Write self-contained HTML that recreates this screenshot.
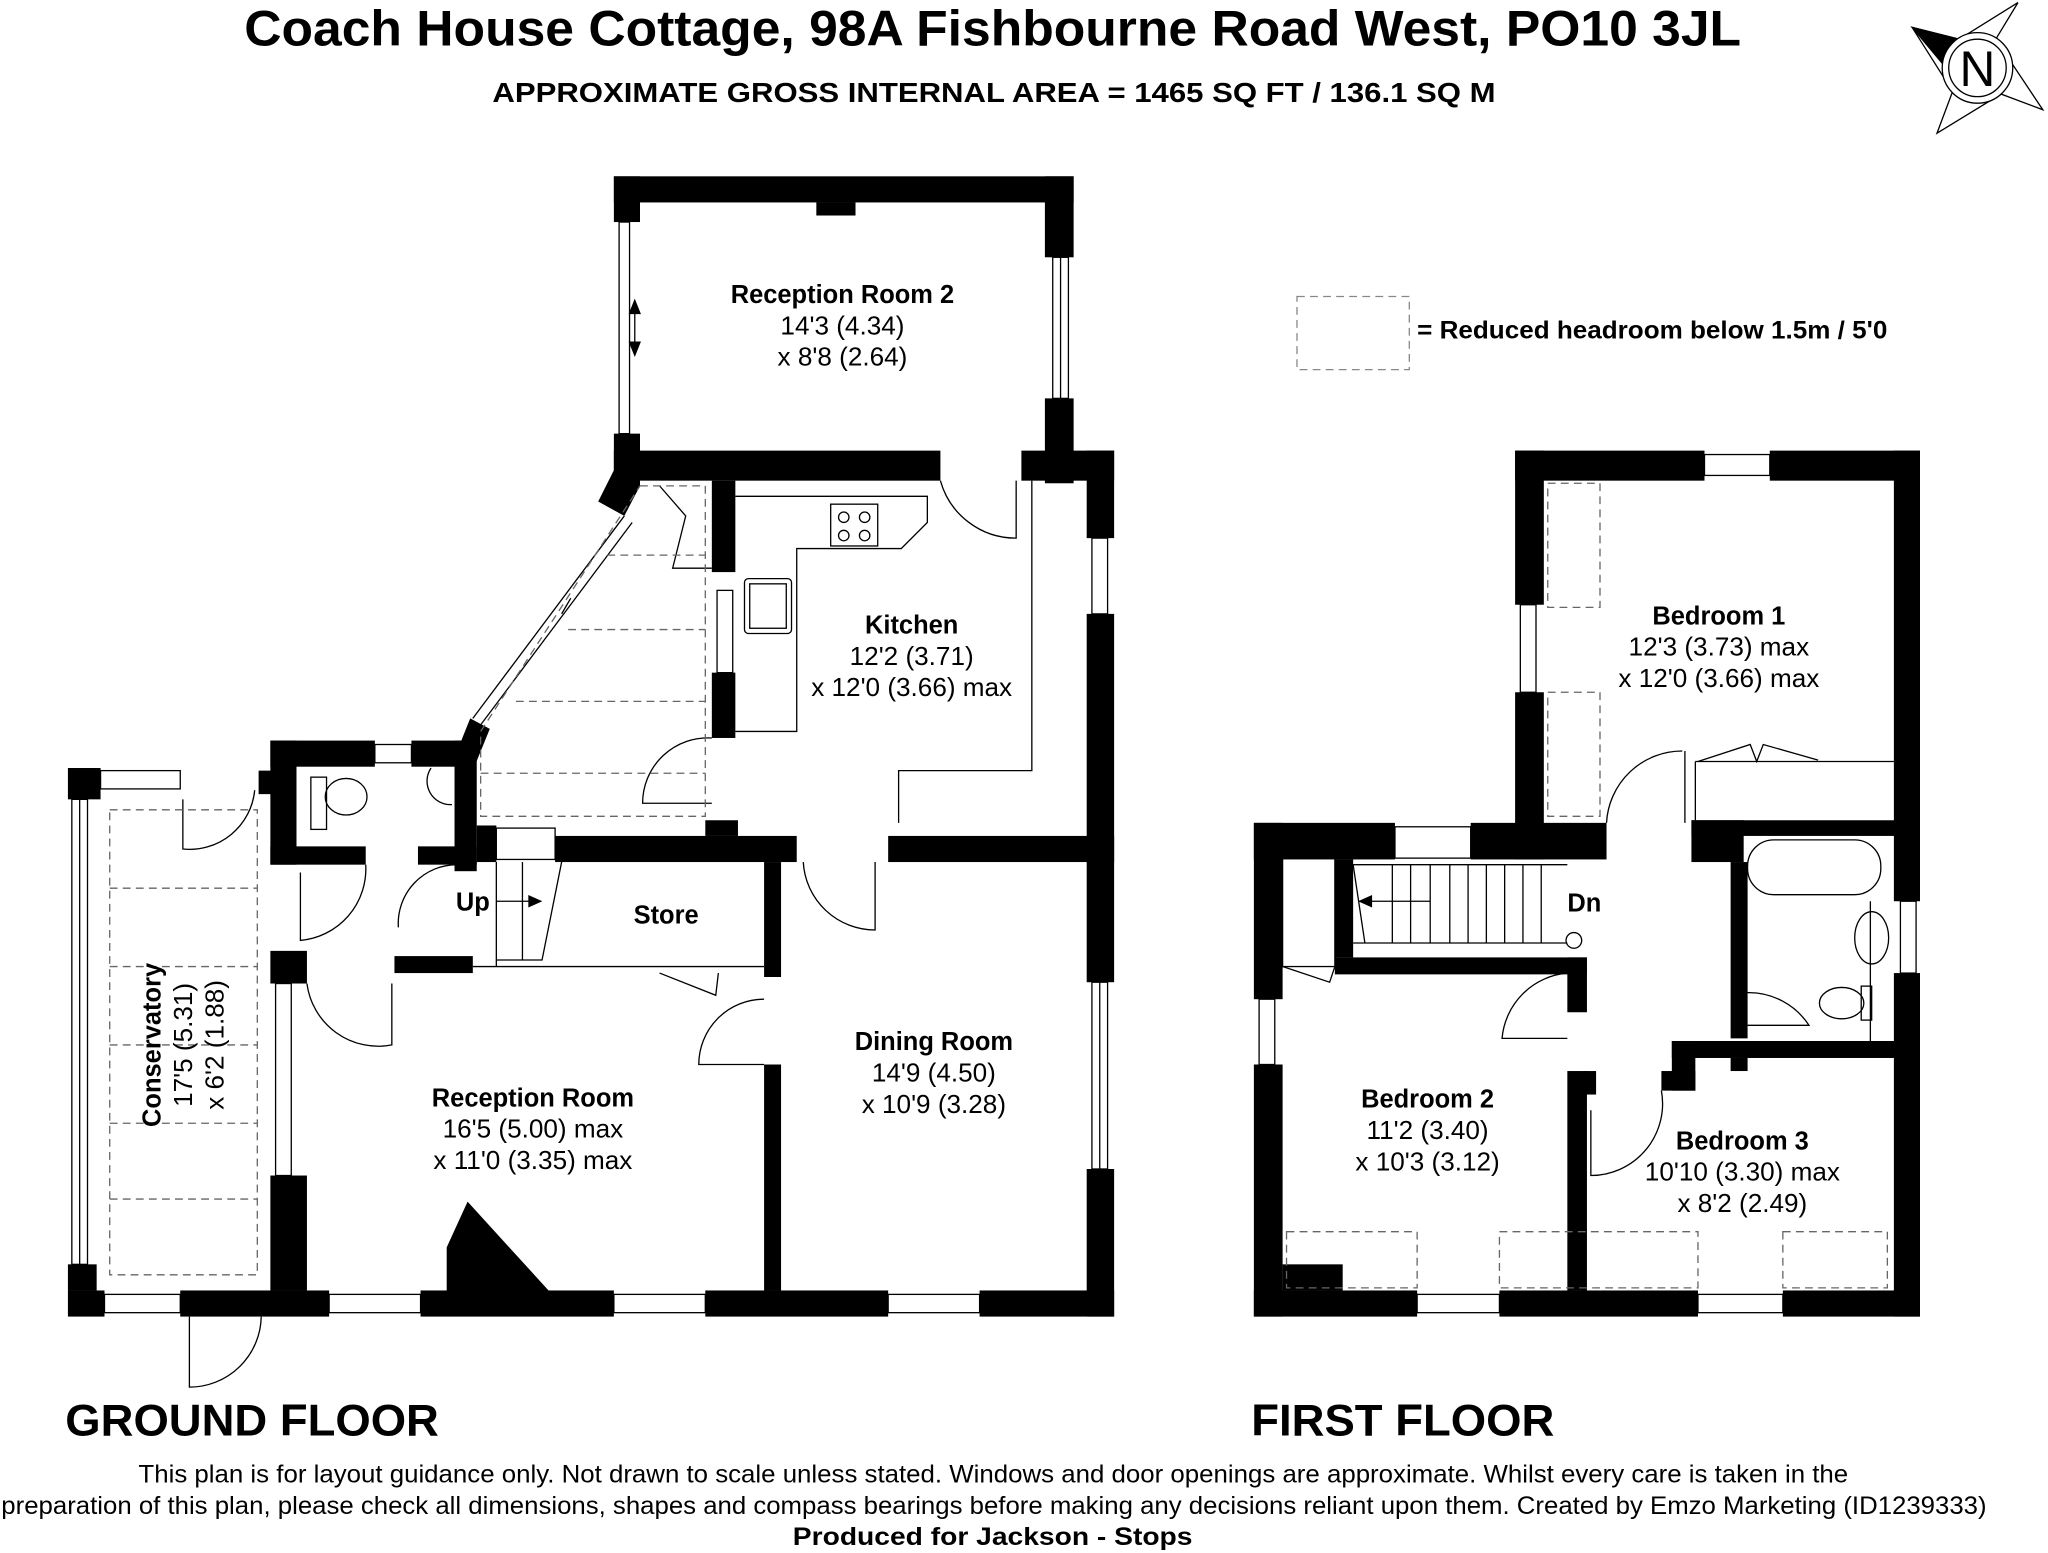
<!DOCTYPE html>
<html><head><meta charset="utf-8"><style>
html,body{margin:0;padding:0;background:#fff;}
svg{display:block;}
text{font-family:"Liberation Sans",Arial,sans-serif;fill:#000;}
.b{font-weight:bold;}
</style></head><body>
<svg width="2048" height="1553" viewBox="0 0 1568 1189" preserveAspectRatio="none" xmlns="http://www.w3.org/2000/svg">
<rect width="1568" height="1189" fill="#fff"/>
<!-- titles -->
<text x="187" y="35" class="b" font-size="38" textLength="1146" lengthAdjust="spacingAndGlyphs">Coach House Cottage, 98A Fishbourne Road West, PO10 3JL</text>
<text x="377" y="78" class="b" font-size="21" textLength="768" lengthAdjust="spacingAndGlyphs">APPROXIMATE GROSS INTERNAL AREA = 1465 SQ FT / 136.1 SQ M</text>
<!-- compass -->
<g stroke="#000" stroke-width="1" fill="#fff">
<polygon points="1545,2 1528,30 1514,52 1500,30"/>
<polygon points="1564,84 1532,72 1514,52 1528,30"/>
<polygon points="1483,102 1495,70 1514,52 1532,72"/>
<polygon points="1464,21 1500,30 1514,52 1495,70"/>
<polygon points="1464,21 1500,30 1490,52" fill="#000"/>
<circle cx="1514" cy="52" r="27"/>
<circle cx="1514" cy="52" r="22"/>
</g>
<text x="1514" y="66" text-anchor="middle" font-size="38">N</text>
<!-- legend -->
<rect x="993" y="227" width="86" height="56" fill="none" stroke="#888" stroke-dasharray="6,4"/>
<text x="1085" y="259" class="b" font-size="19" textLength="360" lengthAdjust="spacingAndGlyphs">= Reduced headroom below 1.5m / 5'0</text>

<g fill="#000">
<rect x="470" y="135" width="352" height="20"/>
<rect x="470" y="135" width="20" height="35"/>
<rect x="625" y="155" width="30" height="10"/>
<rect x="800" y="135" width="22" height="62"/>
<rect x="800" y="305" width="22" height="65"/>
<rect x="470" y="332" width="20" height="40"/>
<rect x="470" y="345" width="250" height="23"/>
<rect x="782" y="345" width="71" height="23"/>
<rect x="832" y="345" width="21" height="67"/>
<rect x="832" y="470" width="21" height="282"/>
<rect x="832" y="895" width="21" height="113"/>
<rect x="545" y="368" width="18" height="70"/>
<rect x="545" y="515" width="18" height="50"/>
<polygon points="470,360 490,372 478,395 458,384"/>
<polygon points="360,550 375,558 362,590 348,580"/>
<rect x="207" y="567" width="80" height="20"/>
<rect x="315" y="567" width="45" height="20"/>
<rect x="207" y="567" width="20" height="95"/>
<rect x="207" y="648" width="73" height="14"/>
<rect x="320" y="648" width="45" height="14"/>
<rect x="348" y="567" width="17" height="100"/>
<rect x="365" y="632" width="15" height="28"/>
<rect x="425" y="640" width="185" height="20"/>
<rect x="540" y="628" width="25" height="12"/>
<rect x="680" y="640" width="173" height="20"/>
<rect x="585" y="660" width="13" height="88"/>
<rect x="585" y="815" width="13" height="173"/>
<rect x="302" y="732" width="60" height="13"/>
<rect x="207" y="728" width="28" height="25"/>
<rect x="207" y="900" width="28" height="88"/>
<polygon points="342,988 342,955 358,920 420,988"/>
<rect x="52" y="988" width="28" height="20"/>
<rect x="138" y="988" width="114" height="20"/>
<rect x="322" y="988" width="148" height="20"/>
<rect x="540" y="988" width="140" height="20"/>
<rect x="750" y="988" width="103" height="20"/>
<rect x="52" y="588" width="25" height="24"/>
<rect x="52" y="968" width="22" height="20"/>
<rect x="198" y="590" width="10" height="18"/>

<rect x="1160" y="345" width="145" height="23"/>
<rect x="1355" y="345" width="115" height="23"/>
<rect x="1160" y="345" width="22" height="118"/>
<rect x="1160" y="530" width="22" height="128"/>
<rect x="1450" y="345" width="20" height="345"/>
<rect x="1450" y="745" width="20" height="263"/>
<rect x="960" y="630" width="108" height="28"/>
<rect x="1126" y="630" width="104" height="28"/>
<rect x="960" y="630" width="22" height="135"/>
<rect x="960" y="815" width="22" height="193"/>
<rect x="960" y="988" width="125" height="20"/>
<rect x="1148" y="988" width="152" height="20"/>
<rect x="1365" y="988" width="105" height="20"/>
<rect x="982" y="968" width="46" height="20"/>
<rect x="1022" y="658" width="14" height="75"/>
<rect x="1022" y="733" width="193" height="13"/>
<rect x="1200" y="733" width="15" height="42"/>
<rect x="1200" y="820" width="15" height="168"/>
<rect x="1212" y="820" width="10" height="18"/>
<rect x="1295" y="628" width="175" height="12"/>
<rect x="1295" y="628" width="40" height="32"/>
<rect x="1325" y="660" width="13" height="135"/>
<rect x="1280" y="797" width="190" height="13"/>
<rect x="1280" y="797" width="18" height="38"/>
<rect x="1272" y="820" width="26" height="15"/>
<rect x="1325" y="810" width="13" height="10"/>
</g>

<g fill="none" stroke="#000" stroke-width="1">
<rect x="474" y="170" width="8" height="162"/>
<rect x="806" y="197" width="12" height="108"/><line x1="812" y1="197" x2="812" y2="305"/>
<rect x="836" y="412" width="12" height="58"/>
<rect x="836" y="752" width="12" height="143"/><line x1="842" y1="752" x2="842" y2="895"/>
<rect x="549" y="452" width="12" height="63"/>
<rect x="287" y="570" width="28" height="14"/>
<rect x="380" y="634" width="45" height="24"/>
<rect x="80" y="991" width="58" height="14"/><rect x="252" y="991" width="70" height="14"/>
<rect x="470" y="991" width="70" height="14"/><rect x="680" y="991" width="70" height="14"/>
<rect x="77" y="590" width="61" height="14"/>
<rect x="55" y="612" width="12" height="356"/><line x1="61" y1="612" x2="61" y2="968"/>
<rect x="211" y="753" width="12" height="147"/>
<line x1="478" y1="395" x2="362" y2="550"/><line x1="484" y1="400" x2="368" y2="555"/>
<path d="M720,368 A60,60 0 0 0 778,412 L778,368"/>
<path d="M545,565 A50,50 0 0 0 492,615 L545,615"/>
<path d="M615,660 A55,55 0 0 0 670,712 L670,660"/>
<path d="M585,765 A50,50 0 0 0 535,815 L585,815"/>
<path d="M235,753 A55,55 0 0 0 300,800 L300,753"/>
<path d="M280,662 A55,55 0 0 1 230,720 L230,668"/>
<path d="M350,662 A45,45 0 0 0 305,710"/>
<path d="M140,612 L140,650 A50,50 0 0 0 195,605"/>
<path d="M145,1008 L145,1062 A55,55 0 0 0 200,1008"/>
<path d="M505,745 L548,762 L550,745"/>
<path d="M563,380 L710,380 L710,400 L690,420 L610,420 L610,560 L563,560"/>
<path d="M790,368 L790,590 L688,590 L688,630"/>
<rect x="636" y="386" width="36" height="32"/>
<circle cx="646" cy="396" r="4"/><circle cx="662" cy="396" r="4"/><circle cx="646" cy="410" r="4"/><circle cx="662" cy="410" r="4"/>
<rect x="570" y="443" width="36" height="42" rx="3"/><rect x="574" y="447" width="28" height="34"/>
<path d="M380,660 L380,740 M400,660 L400,735 M380,735 L415,735 L430,660"/>
<line x1="362" y1="740" x2="585" y2="740"/>
<ellipse cx="265" cy="610" rx="16" ry="14"/><rect x="238" y="595" width="12" height="40"/>
<path d="M330,588 a18,18 0 0 0 16,28"/>
<path d="M505,372 L525,395 L515,435 L545,435"/>
</g>
<g fill="none" stroke="#666" stroke-dasharray="6,4" stroke-width="1">
<path d="M490,372 L540,372 L540,625 L368,625 L368,560 Z"/>
<line x1="465" y1="425" x2="540" y2="425"/><line x1="435" y1="482" x2="540" y2="482"/>
<line x1="395" y1="537" x2="540" y2="537"/><line x1="368" y1="592" x2="540" y2="592"/>
<rect x="84" y="620" width="113" height="356"/>
<line x1="84" y1="680" x2="197" y2="680"/><line x1="84" y1="740" x2="197" y2="740"/>
<line x1="84" y1="800" x2="197" y2="800"/><line x1="84" y1="860" x2="197" y2="860"/><line x1="84" y1="918" x2="197" y2="918"/>
</g>
<g stroke="#000" fill="#000">
<line x1="486" y1="238" x2="486" y2="265"/><polygon points="482,240 490,240 486,230"/><polygon points="482,262 490,262 486,272"/>
<line x1="430" y1="470" x2="437" y2="458"/><line x1="380" y1="690" x2="405" y2="690"/><polygon points="405,686 405,694 414,690"/>
<line x1="1050" y1="690" x2="1095" y2="690"/><polygon points="1050,686 1050,694 1041,690"/>
</g>

<g fill="none" stroke="#000" stroke-width="1">
<rect x="1305" y="348" width="50" height="16"/>
<rect x="1164" y="463" width="12" height="67"/>
<rect x="1455" y="690" width="12" height="55"/>
<rect x="964" y="765" width="12" height="50"/>
<rect x="1068" y="633" width="58" height="24"/>
<rect x="1085" y="991" width="63" height="14"/><rect x="1300" y="991" width="65" height="14"/>
<path d="M1298,583 L1450,583 M1298,583 L1298,628"/>
<path d="M1300,583 L1340,570 L1345,583 L1350,570 L1392,582"/>
<path d="M1290,575 L1290,630 M1230,630 A58,58 0 0 1 1288,575"/>
<path d="M1338,760 A55,55 0 0 1 1385,785 L1338,785"/>
<path d="M1200,745 A55,55 0 0 0 1150,795 L1200,795"/>
<path d="M1218,850 L1218,900 A55,55 0 0 0 1272,835"/>
<path d="M982,740 L1018,752 L1022,740"/>
<rect x="1338" y="643" width="102" height="42" rx="20"/>
<ellipse cx="1433" cy="718" rx="13" ry="20"/>
<ellipse cx="1410" cy="768" rx="17" ry="12"/><rect x="1425" y="755" width="8" height="26"/>
<line x1="1432" y1="690" x2="1432" y2="797"/>
<path d="M1036,662 L1200,662 M1036,722 L1200,722"/>
<line x1="1036" y1="662" x2="1045" y2="722"/>
<line x1="1066" y1="662" x2="1066" y2="722"/><line x1="1080" y1="662" x2="1080" y2="722"/><line x1="1095" y1="662" x2="1095" y2="722"/>
<line x1="1110" y1="662" x2="1110" y2="722"/><line x1="1124" y1="662" x2="1124" y2="722"/><line x1="1138" y1="662" x2="1138" y2="722"/>
<line x1="1152" y1="662" x2="1152" y2="722"/><line x1="1166" y1="662" x2="1166" y2="722"/><line x1="1180" y1="662" x2="1180" y2="722"/>
<circle cx="1205" cy="720" r="6"/>
<rect x="982" y="650" width="40" height="90"/>
</g>
<g fill="none" stroke="#666" stroke-dasharray="6,4" stroke-width="1">
<rect x="1185" y="370" width="40" height="95"/>
<rect x="1185" y="530" width="40" height="95"/>
<rect x="985" y="943" width="100" height="43"/>
<rect x="1148" y="943" width="152" height="43"/>
<rect x="1365" y="943" width="80" height="43"/>
</g>

<g font-size="20" text-anchor="middle">
<text x="645" y="232" class="b" font-size="19.5">Reception Room 2</text><text x="645" y="256">14'3 (4.34)</text><text x="645" y="280">x 8'8 (2.64)</text>
<text x="698" y="485" class="b" font-size="19.5">Kitchen</text><text x="698" y="509">12'2 (3.71)</text><text x="698" y="533">x 12'0 (3.66) max</text>
<text x="510" y="707" class="b" font-size="19.5">Store</text>
<text x="362" y="697" class="b" font-size="19.5">Up</text>
<text x="715" y="804" class="b" font-size="19.5">Dining Room</text><text x="715" y="828">14'9 (4.50)</text><text x="715" y="852">x 10'9 (3.28)</text>
<text x="408" y="847" class="b" font-size="19.5">Reception Room</text><text x="408" y="871">16'5 (5.00) max</text><text x="408" y="895">x 11'0 (3.35) max</text>
<text x="1316" y="478" class="b" font-size="19.5">Bedroom 1</text><text x="1316" y="502">12'3 (3.73) max</text><text x="1316" y="526">x 12'0 (3.66) max</text>
<text x="1213" y="698" class="b" font-size="19.5">Dn</text>
<text x="1093" y="848" class="b" font-size="19.5">Bedroom 2</text><text x="1093" y="872">11'2 (3.40)</text><text x="1093" y="896">x 10'3 (3.12)</text>
<text x="1334" y="880" class="b" font-size="19.5">Bedroom 3</text><text x="1334" y="904">10'10 (3.30) max</text><text x="1334" y="928">x 8'2 (2.49)</text>
</g>
<g font-size="20" text-anchor="middle" transform="translate(140,800) rotate(-90)">
<text x="0" y="-17" class="b" font-size="19.5">Conservatory</text><text x="0" y="7">17'5 (5.31)</text><text x="0" y="31">x 6'2 (1.88)</text>
</g>
<text x="50" y="1099" class="b" font-size="34" textLength="286" lengthAdjust="spacingAndGlyphs">GROUND FLOOR</text>
<text x="958" y="1099" class="b" font-size="34" textLength="232" lengthAdjust="spacingAndGlyphs">FIRST FLOOR</text>
<g font-size="19">
<text x="106" y="1135" textLength="1309" lengthAdjust="spacingAndGlyphs">This plan is for layout guidance only. Not drawn to scale unless stated. Windows and door openings are approximate. Whilst every care is taken in the</text>
<text x="1" y="1159" textLength="1520" lengthAdjust="spacingAndGlyphs">preparation of this plan, please check all dimensions, shapes and compass bearings before making any decisions reliant upon them. Created by Emzo Marketing (ID1239333)</text>
<text x="607" y="1183" class="b" textLength="306" lengthAdjust="spacingAndGlyphs">Produced for Jackson - Stops</text>
</g>
</svg>
</body></html>
